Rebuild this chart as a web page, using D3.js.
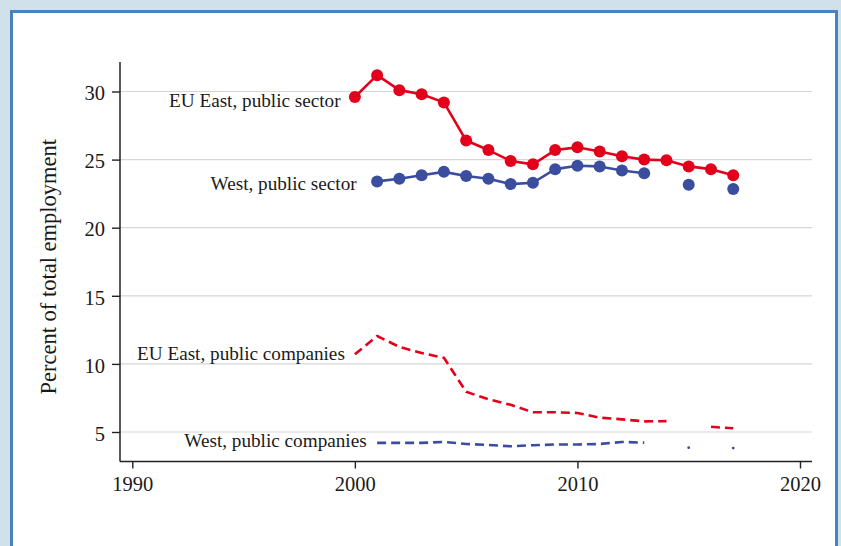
<!DOCTYPE html>
<html>
<head>
<meta charset="utf-8">
<script src="https://cdn.jsdelivr.net/npm/d3@7"></script>
<style>
  html, body { margin: 0; padding: 0; background: #d0e1eb; }
  svg { display: block; }
  text { font-family: "Liberation Serif", "Times New Roman", serif; fill: #1a1a1a; }
</style>
</head>
<body>
<svg id="chart" width="841" height="546"></svg>
<script>
// ---- data ----
const years = [2000,2001,2002,2003,2004,2005,2006,2007,2008,2009,2010,2011,2012,2013,2014,2015,2016,2017];
const eastSector    = [29.6,31.2,30.1,29.8,29.2,26.4,25.7,24.9,24.65,25.7,25.9,25.6,25.25,25.0,24.95,24.5,24.3,23.85];
const westSector    = [null,23.4,23.6,23.85,24.1,23.8,23.6,23.2,23.3,24.3,24.55,24.5,24.2,24.0,null,23.15,null,22.85];
const eastCompanies = [10.7,12.05,11.25,10.8,10.45,7.95,7.4,7.0,6.45,6.45,6.4,6.05,5.93,5.78,5.8,null,5.38,5.27];
const westCompanies = [null,4.2,4.2,4.2,4.27,4.12,4.05,3.95,4.03,4.08,4.08,4.12,4.27,4.22,null,3.85,null,3.82];
const seriesNames = ["EU East, public sector","West, public sector","EU East, public companies","West, public companies"];
// annotation anchor points (year, percent) for the series labels
const labelYears  = [1999.36, 2000.08, 1999.55, 2000.53];
const labelValues = [28.88, 22.77, 10.29, 3.9];
const xTicks = [1990,2000,2010,2020];
const yTicks = [5,10,15,20,25,30];
const yTitle = "Percent of total employment";

// ---- layout ----
const svg = d3.select("#chart");
const RED = "#e3001b", BLUE = "#3a4d9e";

// panel
svg.append("rect").attr("x",0).attr("y",0).attr("width",841).attr("height",546).attr("fill","#d0e1eb");
svg.append("rect").attr("x",11.5).attr("y",11.5).attr("width",825).attr("height",600)
  .attr("fill","#ffffff").attr("stroke","#4a82be").attr("stroke-width",3);

const x = d3.scaleLinear().domain([1990,2020]).range([132.3,800]);
const y = d3.scaleLinear().domain([5,30]).range([432,91.5]);
const plotL = 120, plotR = 812, plotT = 62, plotB = 461.5;

// gridlines
svg.append("g").selectAll("line").data(yTicks).join("line")
  .attr("x1",plotL).attr("x2",plotR)
  .attr("y1",d=>y(d)).attr("y2",d=>y(d))
  .attr("stroke","#d6d6d6").attr("stroke-width",1.2);

// y axis
const yAxis = svg.append("g").attr("transform",`translate(${plotL},0)`)
  .call(d3.axisLeft(y).tickValues(yTicks).tickSize(8).tickPadding(7).tickSizeOuter(0));
yAxis.select(".domain").remove();
yAxis.selectAll(".tick line").attr("stroke","#222").attr("stroke-width",1.4);
yAxis.selectAll(".tick text").attr("font-size",20.5).attr("font-family","Liberation Serif").attr("fill","#1a1a1a").attr("dy","0.4em");
svg.append("line").attr("x1",plotL).attr("x2",plotL).attr("y1",plotT).attr("y2",plotB)
  .attr("stroke","#222").attr("stroke-width",1.5);

// x axis
const xAxis = svg.append("g").attr("transform",`translate(0,${plotB})`)
  .call(d3.axisBottom(x).tickValues(xTicks).tickFormat(d3.format("d")).tickSize(7).tickPadding(8).tickSizeOuter(0));
xAxis.select(".domain").remove();
xAxis.selectAll(".tick line").attr("stroke","#222").attr("stroke-width",1.4);
xAxis.selectAll(".tick text").attr("font-size",20.5).attr("font-family","Liberation Serif").attr("fill","#1a1a1a");
svg.append("line").attr("x1",plotL).attr("x2",plotR).attr("y1",plotB).attr("y2",plotB)
  .attr("stroke","#222").attr("stroke-width",1.5);

// y title
svg.append("text").attr("transform",`translate(56,${(plotT+plotB)/2 + 5}) rotate(-90)`)
  .attr("text-anchor","middle").attr("font-size",22.5).text(yTitle);

// series
const series = [
  {vals: eastSector, color: RED, dash: null, markers: true},
  {vals: westSector, color: BLUE, dash: null, markers: true},
  {vals: eastCompanies, color: RED, dash: "9,5", markers: false},
  {vals: westCompanies, color: BLUE, dash: "9,5", markers: false}
];
const line = d3.line().defined(d => d.v != null).x(d => x(d.yr)).y(d => y(d.v));

series.forEach((s, si) => {
  const pts = years.map((yr,i) => ({yr, v: s.vals[i]}));
  const g = svg.append("g");
  g.append("path").datum(pts).attr("d", line)
    .attr("fill","none").attr("stroke",s.color).attr("stroke-width",2.6)
    .attr("stroke-linejoin","round")
    .attr("stroke-dasharray", s.dash);
  if (s.markers) {
    g.selectAll("circle").data(pts.filter(d=>d.v!=null)).join("circle")
      .attr("cx",d=>x(d.yr)).attr("cy",d=>y(d.v)).attr("r",6).attr("fill",s.color);
  } else {
    const iso = pts.filter((d,i) => d.v != null &&
      (i===0 || pts[i-1].v==null) && (i===pts.length-1 || pts[i+1].v==null));
    g.selectAll("circle").data(iso).join("circle")
      .attr("cx",d=>x(d.yr)).attr("cy",d=>y(d.v)).attr("r",1.4).attr("fill",s.color);
  }
  svg.append("text").attr("x", x(labelYears[si])).attr("y", y(labelValues[si]))
    .attr("text-anchor","end").attr("font-size",19.2).text(seriesNames[si]);
});
</script>
</body>
</html>
